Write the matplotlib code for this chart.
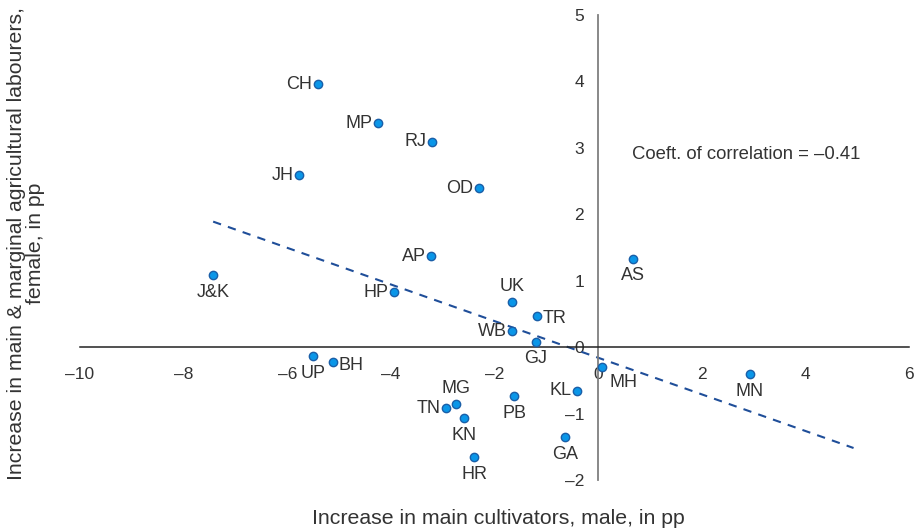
import matplotlib
matplotlib.use("Agg")
import matplotlib.pyplot as plt
import numpy as np

plt.rcParams['font.family'] = ['Liberation Sans', 'DejaVu Sans']

states = ["CH", "MP", "RJ", "JH", "OD", "AP", "AS", "J&K", "HP", "UK", "TR", "WB",
          "GJ", "MH", "UP", "BH", "MN", "KL", "MG", "TN", "PB", "KN", "GA", "HR"]
cultivators_male = [-5.41, -4.25, -3.20, -5.77, -2.30, -3.22, 0.68, -7.43, -3.94, -1.66, -1.18, -1.66,
                    -1.20, 0.08, -5.50, -5.12, 2.93, -0.41, -2.74, -2.93, -1.62, -2.59, -0.64, -2.39]
labourers_female = [3.96, 3.37, 3.09, 2.59, 2.39, 1.37, 1.33, 1.08, 0.83, 0.68, 0.47, 0.24,
                    0.08, -0.30, -0.14, -0.23, -0.41, -0.66, -0.86, -0.92, -0.74, -1.07, -1.36, -1.66]
label_side = ["left", "left", "left", "left", "left", "left", "below", "below", "left", "above", "right", "left",
              "below", "belowright", "below", "right", "below", "left", "above", "left", "below", "below", "below", "below"]
x_ticks = [-10, -8, -6, -4, -2, 0, 2, 4, 6]
y_ticks = [-2, -1, 0, 1, 2, 3, 4, 5]

txt_col = "#333333"
fig = plt.figure(figsize=(9.16, 5.32), dpi=100)
ax = fig.add_axes([80/916, 52/532, 829/916, 465/532])
ax.set_xlim(-10, 6)
ax.set_ylim(-2, 5)

for s in ["top", "right"]:
    ax.spines[s].set_visible(False)
ax.spines["left"].set_position(("data", 0))
ax.spines["bottom"].set_position(("data", 0))
ax.spines["left"].set_color("#7f7f7f")
ax.spines["left"].set_linewidth(1.3)
ax.spines["bottom"].set_color("#222222")
ax.spines["bottom"].set_linewidth(1.1)

fmt = lambda v: str(v).replace("-", "\u2013")
ax.set_xticks(x_ticks)
ax.set_xticklabels([fmt(v) for v in x_ticks])
ax.set_yticks(y_ticks)
ax.set_yticklabels([fmt(v) for v in y_ticks])
ax.tick_params(axis="both", length=0, labelsize=12.5, colors=txt_col)
ax.tick_params(axis="x", pad=14)
ax.tick_params(axis="y", pad=10)

xs = np.array(cultivators_male)
ys = np.array(labourers_female)
slope, intercept = np.polyfit(xs, ys, 1)
tx = np.array([xs.min(), xs.max() + 2])
ax.plot(tx, slope * tx + intercept, color="#1f4e99", lw=1.5, ls=(0, (4, 3.5)), zorder=2)

ax.plot(xs, ys, ls="none", marker="o", ms=6, mfc="#0a96e8", mec="#1a5fa8", mew=1.0, zorder=3, clip_on=False)

offsets = {"left": ((-4, 0), "right", "center"),
           "right": ((4, -2), "left", "center"),
           "below": ((0, -6), "center", "top"),
           "above": ((0, 5), "center", "bottom"),
           "belowright": ((5, -5), "left", "top")}
for st, x, y, side in zip(states, xs, ys, label_side):
    (dx, dy), ha, va = offsets[side]
    ax.annotate(st, (x, y), xytext=(dx, dy), textcoords="offset points",
                ha=ha, va=va, fontsize=13, color=txt_col)

ax.text(0.65, 2.9, "Coeft. of correlation = \u20130.41", fontsize=13.3, color=txt_col, ha="left", va="center")

fig.text(498/916, 1 - 519/532, "Increase in main cultivators, male, in pp", fontsize=15.3,
         color=txt_col, ha="center", va="center")
fig.text(26/916, 1 - 243/532, "Increase in main & marginal agricultural labourers,\nfemale, in pp",
         fontsize=15.3, color=txt_col, ha="center", va="center", rotation=90, linespacing=1.0)

fig.savefig("out.png", dpi=100)
